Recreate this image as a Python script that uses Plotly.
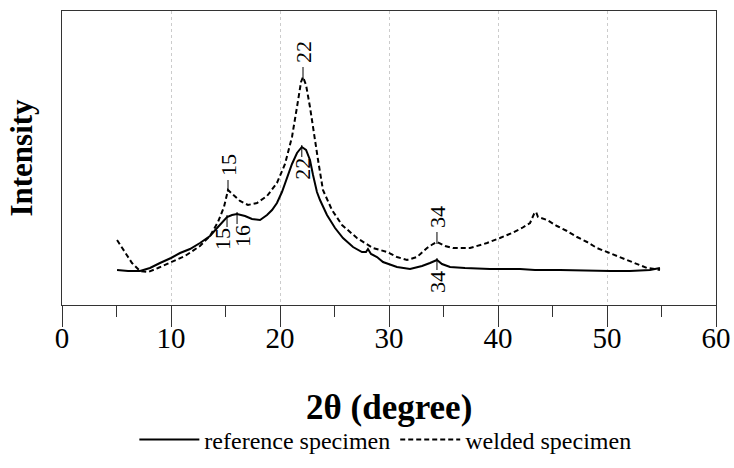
import plotly.graph_objects as go

# ---- data ----
ref_x = [5.05, 6.06, 7.16, 8.07, 8.99, 10.0, 10.83, 11.74, 12.66, 13.58, 14.31, 15.14, 15.6, 16.06,
         16.79, 17.43, 18.17, 18.81, 19.27, 19.72, 20.18, 20.64, 21.1, 21.56, 22.0, 22.39, 22.75,
         23.03, 23.39, 23.67, 24.31, 25.05, 25.78, 26.7, 27.52, 27.89, 28.07, 28.35, 28.9, 29.45,
         30.73, 31.93, 33.03, 33.76, 34.4, 34.86, 35.6, 36.97, 39.27, 42.02, 43.39, 45.69, 48.44,
         50.28, 52.11, 53.94, 54.86]
ref_y = [35, 34, 34, 37, 42, 47, 52, 56, 62, 69, 78, 88, 90, 91,
         89, 86, 85, 90, 95, 102, 113, 127, 141, 152, 158, 155, 145,
         130, 113, 105, 90, 77, 67, 58, 53, 53, 56, 51, 48, 43,
         38, 36, 39, 42, 45, 41, 38, 37, 36, 36, 35, 35, 34,
         34, 34, 35, 37]

weld_x = [5.05, 5.78, 6.42, 7.16, 7.89, 8.81, 10.0, 11.28, 12.66, 13.58, 14.31, 14.86, 15.23, 15.69,
          16.33, 17.06, 17.89, 18.81, 19.72, 20.46, 21.1, 21.56, 21.93, 22.11, 22.39, 22.75, 23.12,
          23.49, 23.94, 24.77, 25.69, 27.06, 28.53, 29.82, 30.73, 31.65, 32.57, 33.49, 34.04, 34.4,
          35.14, 35.87, 37.43, 38.99, 40.18, 41.28, 42.2, 42.94, 43.3, 43.49, 43.67, 44.04, 44.5,
          45.41, 46.33, 47.25, 48.17, 49.08, 50.0, 50.92, 51.83, 52.75, 53.67, 54.4, 54.86]
weld_y = [65, 53, 42, 34, 33, 37, 43, 49, 59, 69, 83, 98, 115, 110,
          104, 100, 102, 109, 122, 141, 168, 198, 223, 228, 220, 198, 170,
          145, 115, 95, 80, 67, 57, 53, 48, 45, 48, 57, 61, 63,
          59, 57, 57, 62, 67, 72, 77, 82, 91, 93, 88, 87, 85,
          79, 74, 68, 63, 57, 53, 49, 45, 41, 37, 36, 35]

ref_peak_x = [15.14, 16.06, 22.0, 34.4]
ref_peak_labels = ["15", "16", "22", "34"]
weld_peak_x = [15.23, 22.11, 34.4]
weld_peak_labels = ["15", "22", "34"]

x_ticks = [0, 10, 20, 30, 40, 50, 60]
x_title = "2θ (degree)"
y_title = "Intensity"

FONT = "Liberation Serif, Times New Roman, serif"

fig = go.Figure()
fig.add_trace(go.Scatter(x=ref_x, y=ref_y, mode="lines", name="reference specimen",
                         line=dict(color="black", width=2)))
fig.add_trace(go.Scatter(x=weld_x, y=weld_y, mode="lines", name="welded specimen",
                         line=dict(color="black", width=2, dash="5px,3px")))


def y_at(xs, ys, xv):
    for i in range(len(xs) - 1):
        if xs[i] <= xv <= xs[i + 1]:
            t = (xv - xs[i]) / (xs[i + 1] - xs[i])
            return ys[i] + t * (ys[i + 1] - ys[i])
    return ys[-1]


ref_shift = {"15": -5, "16": 5}
for px, lab in zip(ref_peak_x, ref_peak_labels):
    py = y_at(ref_x, ref_y, px)
    fig.add_shape(type="line", xref="x", yref="y", x0=px, x1=px, ysizemode="pixel",
                  yanchor=py, y0=-10, y1=2, line=dict(color="black", width=1))
    fig.add_annotation(x=px, y=py, text=lab, showarrow=False, textangle=-90,
                       xanchor="center", yanchor="middle", yshift=-22,
                       xshift=ref_shift.get(lab, 0) if px < 20 else 0,
                       font=dict(family=FONT, size=22, color="black"))

for px, lab in zip(weld_peak_x, weld_peak_labels):
    py = y_at(weld_x, weld_y, px)
    fig.add_shape(type="line", xref="x", yref="y", x0=px, x1=px, ysizemode="pixel",
                  yanchor=py, y0=-2, y1=10, line=dict(color="black", width=1))
    fig.add_annotation(x=px, y=py, text=lab, showarrow=False, textangle=-90,
                       xanchor="center", yanchor="middle", yshift=25,
                       font=dict(family=FONT, size=22, color="black"))

# x-axis title placed below the tick labels
fig.add_annotation(xref="paper", yref="paper", x=0.5, y=-0.347, text=f"<b>{x_title}</b>",
                   showarrow=False, xanchor="center", yanchor="middle",
                   font=dict(family=FONT, size=35, color="black"))

fig.update_layout(
    width=734, height=468,
    margin=dict(l=62, r=18, t=11, b=163),
    paper_bgcolor="white", plot_bgcolor="white",
    font=dict(family=FONT, color="black"),
    showlegend=True,
    legend=dict(orientation="h", x=0.525, xanchor="center", xref="container",
                y=0.06, yanchor="middle", yref="container",
                font=dict(family=FONT, size=24, color="black"), itemwidth=60,
                tracegroupgap=0),
    xaxis=dict(range=[0, 60], tickvals=x_ticks, ticktext=[str(v) for v in x_ticks],
               automargin=False,
               ticks="outside", ticklen=21, tickwidth=1.3, tickcolor="#333",
               ticklabelstandoff=-14,
               minor=dict(ticks="outside", ticklen=11, tickwidth=1.3, tickcolor="#333", dtick=5,
                          showgrid=False),
               showline=True, linecolor="#333", linewidth=1.3, mirror=True,
               showgrid=True, gridcolor="#cccccc", griddash="dot", gridwidth=1,
               tickfont=dict(family=FONT, size=29, color="black"),
               zeroline=False),
    yaxis=dict(range=[0, 294], showticklabels=False, ticks="", showgrid=False,
               automargin=False,
               showline=True, linecolor="#333", linewidth=1.3, mirror=True, zeroline=False,
               title=dict(text=f"<b>{y_title}</b>", font=dict(family=FONT, size=31, color="black"),
                          standoff=19)),
)

fig.write_html("out.html", config={"displayModeBar": False},
               post_script="document.body.style.margin='0';document.body.style.overflow='hidden';")
